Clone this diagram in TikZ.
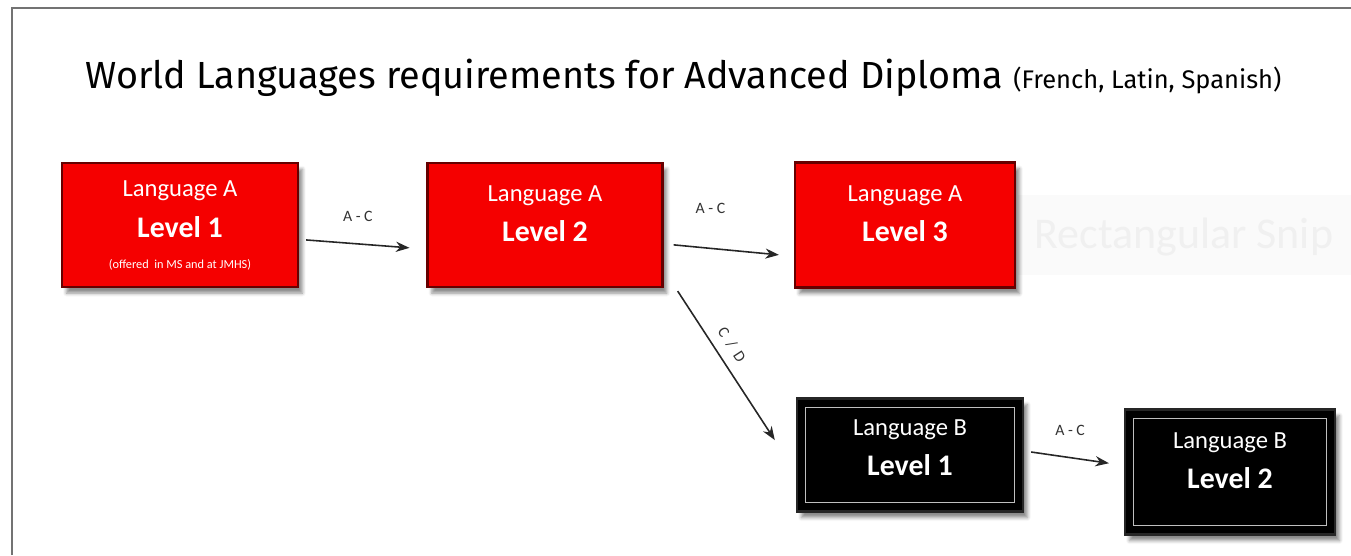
\documentclass[tikz,border=0pt]{standalone}
\usepackage{fontspec}
\setmainfont{Carlito}
\newfontfamily\titlefont{Fira Sans}
\usetikzlibrary{arrows.meta,shadows.blur}

\begin{document}
\begin{tikzpicture}
[x=0.02cm,y=-0.02cm
,lbox/.style={draw,line width=1.3pt,text=white,align=center,inner sep=0pt
  ,font=\fontsize{14}{19}\selectfont
  ,blur shadow={shadow xshift=2.5pt,shadow yshift=-3.5pt,shadow opacity=45}}
,redbox/.style={lbox,fill=red!96!black,draw=red!40!black}
,blackbox/.style={lbox,fill=black,draw=black!85
  ,path picture={\draw[black!25,line width=0.4pt]
     ([shift={(5pt,-5pt)}]path picture bounding box.north west) rectangle
     ([shift={(-5pt,5pt)}]path picture bounding box.south east);}}
,lift/.style={text depth=#1}
,le/.style={draw=black!85,line width=0.9pt,arrows={-Stealth[scale=1.1]}}
,grade/.style={font=\fontsize{9}{10}\selectfont,text=black!80}]
\useasboundingbox (0,0) rectangle (1351,555);
% frame of the page
\draw[black!55,line width=1.6pt] (12,555) -- (12,8) -- (1351,8);
% faint snip tag
\fill[black!2] (1018,195) rectangle (1351,275);
\node[text=black!6,font=\fontsize{25}{28}\selectfont] (snip) at (1184,237) {Rectangular Snip};
% title
\node[anchor=base west,inner sep=0pt] (title) at (85,88)
  {\titlefont\fontsize{21.5}{24}\selectfont World Languages requirements for Advanced Diploma
   \fontsize{14.5}{16}\selectfont(French, Latin, Spanish)};
% language A
\node[redbox,minimum width=4.72cm,minimum height=2.48cm] (a1) at (180,225)
  {Language A\\[4.5pt]{\fontsize{17}{21}\selectfont\bfseries Level 1}\\[-1.5pt]{\fontsize{7}{8}\selectfont (offered\ \ in MS and at JMHS)}};
\node[redbox,lift=13pt,minimum width=4.7cm,minimum height=2.48cm] (a2) at (545,225)
  {Language A\\[4pt]{\fontsize{17}{21}\selectfont\bfseries Level 2}};
\node[redbox,lift=13pt,minimum width=4.4cm,minimum height=2.5cm] (a3) at (905,225)
  {Language A\\[4pt]{\fontsize{17}{21}\selectfont\bfseries Level 3}};
% language B
\node[blackbox,lift=8.5pt,minimum width=4.52cm,minimum height=2.26cm] (b1) at (910,455)
  {Language B\\[4pt]{\fontsize{17}{21}\selectfont\bfseries Level 1}};
\node[blackbox,lift=13pt,minimum width=4.2cm,minimum height=2.5cm] (b2) at (1230,472)
  {Language B\\[4pt]{\fontsize{17}{21}\selectfont\bfseries Level 2}};
% grades
\draw[le] ([xshift=4pt,yshift=-8.5pt]a1.east) -- node[grade,above=9pt] (g1) {A - C} ([xshift=-9.6pt,yshift=-13pt]a2.west);
\draw[le] ([xshift=5.7pt,yshift=-11.3pt]a2.east) -- node[grade,pos=0.35,above=16pt] (g2) {A - C} ([xshift=-8.5pt,yshift=-17pt]a3.west);
\draw[le] ([xshift=8pt,yshift=-1.7pt]a2.south east) -- node[grade,sloped,above=2pt,pos=0.42] (g3) {C\hspace{4pt}/\hspace{4pt}D} ([xshift=-12pt,yshift=8.5pt]b1.west);
\draw[le] ([xshift=4pt,yshift=1.7pt]b1.east) -- node[grade,above=9pt] (g4) {A - C} ([xshift=-8.5pt,yshift=5pt]b2.west);
\end{tikzpicture}
\end{document}
